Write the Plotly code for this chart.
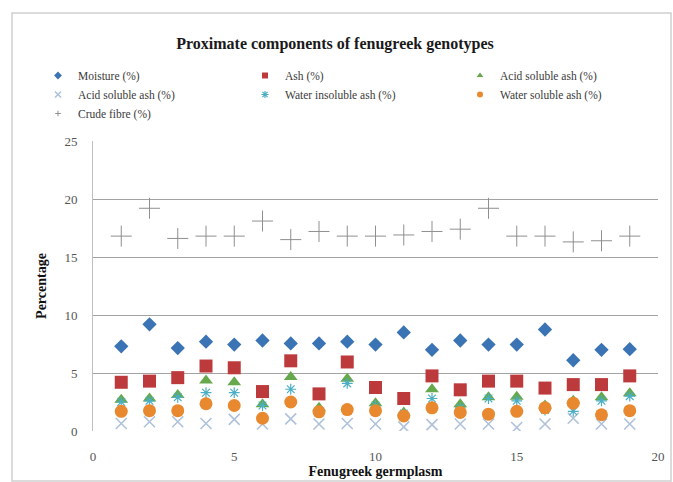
import plotly.graph_objects as go

# ---------------- data ----------------
germplasm = list(range(1, 20))
moisture = [7.3, 9.2, 7.15, 7.7, 7.45, 7.8, 7.55, 7.55, 7.7, 7.45, 8.5, 7.0, 7.8, 7.45, 7.45, 8.75, 6.1, 7.0, 7.05]
ash = [4.2, 4.3, 4.6, 5.6, 5.45, 3.4, 6.05, 3.2, 5.95, 3.75, 2.8, 4.75, 3.55, 4.3, 4.3, 3.7, 4.0, 4.0, 4.75]
acid_soluble_ash = [2.7, 2.8, 3.1, 4.35, 4.2, 2.3, 4.65, 2.0, 4.5, 2.4, 1.6, 3.6, 2.3, 2.9, 2.95, 2.2, 2.6, 2.9, 3.25]
acid_soluble_ash_2 = [0.65, 0.8, 0.8, 0.65, 1.0, 0.6, 1.05, 0.6, 0.65, 0.6, 0.35, 0.55, 0.6, 0.6, 0.3, 0.6, 1.1, 0.6, 0.6]
water_insoluble_ash = [2.5, 2.6, 2.9, 3.3, 3.3, 2.2, 3.6, 1.7, 4.1, 2.2, 1.5, 2.8, 2.0, 2.8, 2.6, 1.8, 1.7, 2.6, 3.0]
water_soluble_ash = [1.7, 1.75, 1.75, 2.35, 2.2, 1.1, 2.5, 1.65, 1.85, 1.75, 1.3, 2.0, 1.6, 1.45, 1.7, 2.0, 2.4, 1.4, 1.75]
crude_fibre = [16.8, 19.2, 16.6, 16.8, 16.8, 18.1, 16.5, 17.2, 16.8, 16.8, 16.9, 17.2, 17.4, 19.2, 16.8, 16.8, 16.3, 16.4, 16.8]

series_names = ["Moisture (%)", "Ash (%)", "Acid soluble ash (%)", "Acid soluble ash (%)",
                "Water insoluble ash (%)", "Water soluble ash (%)", "Crude fibre (%)"]
x_ticks = [0, 5, 10, 15, 20]
y_ticks = [0, 5, 10, 15, 20, 25]

SERIF = "Liberation Serif"

W, H = 673, 482
L, R, T, B = 93, 658, 141, 431  # plot area in pixels


def px_x(p):
    return (p - L) / (R - L)


def px_y(p):
    return (B - p) / (B - T)


fig = go.Figure()

specs = [
    (moisture, dict(symbol="diamond", size=11, color="#3A74B4"), "legend", 6),
    (ash, dict(symbol="square", size=13, color="#BC3A3C"), "legend2", 6),
    (acid_soluble_ash, dict(symbol="triangle-up", size=12, color="#66A84C"), "legend3", 6),
    (acid_soluble_ash_2, dict(symbol="x-thin-open", size=11, color="#AFC2DA", line=dict(width=1.6, color="#AFC2DA")), "legend", 6),
    (water_insoluble_ash, dict(symbol="asterisk-open", size=9, color="#4AAEC4", line=dict(width=1.2, color="#4AAEC4")), "legend2", 6),
    (water_soluble_ash, dict(symbol="circle", size=13, color="#E8892F"), "legend3", 6),
    (crude_fibre, dict(symbol="cross-thin-open", size=15, color="#8F8F8F", line=dict(width=1, color="#8F8F8F")), "legend", 4),
]

for i, (name, (vals, mk, lg, ls)) in enumerate(zip(series_names, specs)):
    fig.add_trace(go.Scatter(x=germplasm, y=vals, mode="markers", name=name,
                             marker=mk, showlegend=False, legendgroup=f"s{i}"))

# legend entries with small markers (as in the original legend)
for i, (name, (vals, mk, lg, ls)) in enumerate(zip(series_names, specs)):
    small = dict(mk)
    small["size"] = ls
    fig.add_trace(go.Scatter(x=[None], y=[None], mode="markers", name=name,
                             marker=small, legend=lg, legendgroup=f"s{i}"))

legend_font = dict(family=SERIF, size=11.5, color="#3a3a3a")
leg_common = dict(font=legend_font, bgcolor="rgba(0,0,0,0)", orientation="v",
                  yanchor="top", y=px_y(61), xanchor="left", tracegroupgap=0,
                  itemwidth=30, itemsizing="trace")

fig.update_layout(
    template="none",
    width=W, height=H,
    margin=dict(l=L, r=W - R, t=T, b=H - B, pad=0),
    paper_bgcolor="white", plot_bgcolor="white",
    title=dict(text="<b>Proximate components of fenugreek genotypes</b>",
               font=dict(family=SERIF, size=16, color="#1a1a1a"),
               x=px_x(335), xref="paper", xanchor="center",
               y=1 - 43 / H, yref="container", yanchor="middle"),
    legend=dict(x=px_x(38), **leg_common),
    legend2=dict(x=px_x(245), **leg_common),
    legend3=dict(x=px_x(460), **leg_common),
    xaxis=dict(range=[0, 20], tickvals=x_ticks, showgrid=False, zeroline=False,
               showline=False, ticks="", automargin=False,
               tickfont=dict(family=SERIF, size=13, color="#555555"),
               ticklabelstandoff=16,
               title=dict(text="<b>Fenugreek germplasm</b>", standoff=3,
                          font=dict(family=SERIF, size=14, color="#111111"))),
    yaxis=dict(range=[0, 25], tickvals=y_ticks, showgrid=True, gridcolor="#A3A3A3",
               gridwidth=1, zeroline=False, showline=True, linecolor="#BFBFBF",
               ticks="", automargin=False,
               tickfont=dict(family=SERIF, size=13, color="#555555"),
               ticklabelstandoff=12,
               title=dict(text="<b>Percentage</b>", standoff=14,
                          font=dict(family=SERIF, size=14, color="#111111"))),
    shapes=[
        dict(type="rect", xref="paper", yref="paper",
             x0=px_x(12), x1=px_x(671), y0=px_y(481), y1=px_y(13),
             line=dict(color="#CFCFCF", width=1.5), fillcolor="rgba(0,0,0,0)", layer="below"),
    ],
)

fig.write_html("out.html", config={"displayModeBar": False},
               post_script="document.body.style.margin='0';")
